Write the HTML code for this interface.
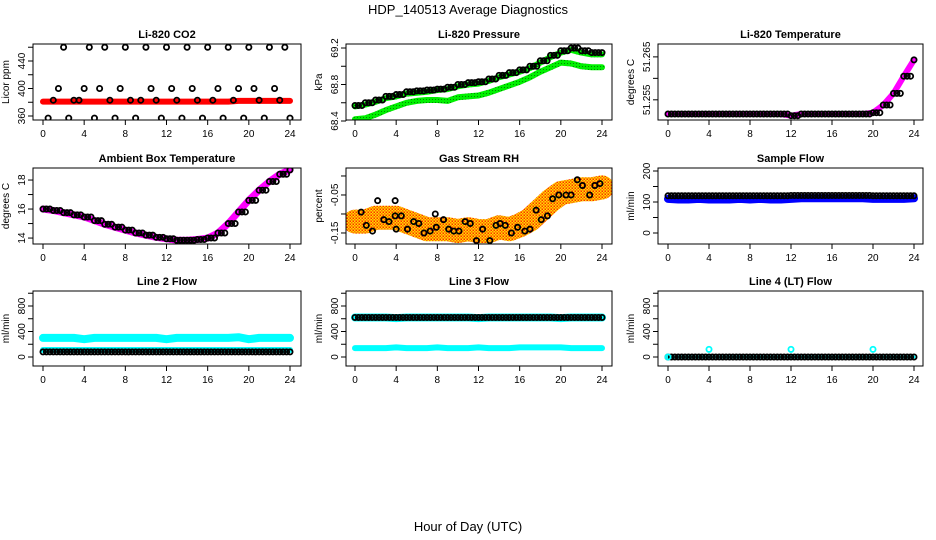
<!DOCTYPE html>
<html><head><meta charset="utf-8"><style>
body{margin:0;background:#fff}
svg{display:block;font-family:"Liberation Sans",sans-serif}
</style></head><body>
<svg id="c" width="936" height="540" xmlns="http://www.w3.org/2000/svg">
<defs>
<pattern id="rhpat" width="3" height="3" patternUnits="userSpaceOnUse">
<rect width="3" height="3" fill="#ffe000"/>
<rect width="1.5" height="1.5" fill="#ff6a00"/>
<rect x="1.5" y="1.5" width="1.5" height="1.5" fill="#ff2a00"/>
</pattern>
<pattern id="grpat" width="3" height="3" patternUnits="userSpaceOnUse">
<rect width="3" height="3" fill="#00f000"/>
<rect width="1" height="1" fill="#008800"/>
</pattern>
</defs>
<text x="468" y="14" text-anchor="middle" font-size="13">HDP_140513  Average Diagnostics</text>
<text x="468" y="531" text-anchor="middle" font-size="13">Hour of Day (UTC)</text>
</svg>
<script>
const hours = [0,1,2,3,4,5,6,7,8,9,10,11,12,13,14,15,16,17,18,19,20,21,22,23,24];
const xTicks = [0,4,8,12,16,20,24];
// CO2
const co2Red = [381,381,381,381,381,381,381,381,381,381,381,381,381,381,381,381,381,381,381,382,382,382,382,382,382];
const co2Hours = [0.5,1,1.5,2,2.5,3,3.5,4,4.5,5,5.5,6,6.5,7,7.5,8,8.5,9,9.5,10,10.5,11,11.5,12,12.5,13,13.5,14,14.5,15,15.5,16,16.5,17,17.5,18,18.5,19,19.5,20,20.5,21,21.5,22,22.5,23,23.5,24];
const co2Black = [357,383,400,460,357,383,383,400,460,357,400,460,383,357,400,460,383,357,383,460,400,383,357,460,400,383,357,460,400,383,357,460,383,400,357,460,383,400,357,460,400,383,357,460,400,383,460,357];
// Pressure
const presBlack = [68.57,68.6,68.63,68.67,68.69,68.72,68.73,68.74,68.75,68.77,68.8,68.82,68.83,68.86,68.9,68.93,68.96,69.0,69.06,69.12,69.17,69.2,69.17,69.15,69.15];
const presGreenHi = [68.56,68.58,68.61,68.65,68.67,68.7,68.71,68.72,68.74,68.75,68.78,68.8,68.81,68.84,68.88,68.91,68.94,68.98,69.04,69.1,69.15,69.18,69.15,69.13,69.13];
const presGreenLo = [68.42,68.43,68.47,68.52,68.56,68.6,68.62,68.63,68.63,68.62,68.66,68.67,68.68,68.71,68.75,68.79,68.83,68.88,68.94,68.99,69.04,69.03,69.0,68.99,68.99];
// Li-820 temperature
const tempVals = [51.2517,51.2517,51.2517,51.2517,51.2517,51.2517,51.2517,51.2517,51.2517,51.2517,51.2517,51.2517,51.2513,51.2517,51.2517,51.2517,51.2517,51.2517,51.2517,51.2517,51.252,51.2538,51.2565,51.2605,51.2643];
// Ambient box temperature
const ambVals = [16.0,15.9,15.75,15.6,15.45,15.2,14.95,14.75,14.55,14.35,14.2,14.05,13.95,13.85,13.85,13.9,14.0,14.35,15.0,15.8,16.6,17.3,17.9,18.4,18.7];
// Gas stream RH
const rhTrend = [-0.12,-0.12,-0.11,-0.11,-0.11,-0.12,-0.13,-0.14,-0.14,-0.14,-0.145,-0.14,-0.145,-0.145,-0.135,-0.14,-0.13,-0.115,-0.09,-0.065,-0.045,-0.04,-0.035,-0.035,-0.03];
const rhHours = [0.6,1.1,1.7,2.2,2.8,3.3,3.9,3.9,4.0,4.5,5.1,5.7,6.2,6.7,7.3,7.8,7.9,8.6,9.1,9.6,10.1,10.7,11.2,11.8,12.4,13.1,13.7,14.1,14.6,15.2,15.8,16.5,17.0,17.6,18.1,18.7,19.2,19.8,20.5,21.0,21.6,22.1,22.8,23.3,23.8];
const rhBlack = [-0.095,-0.13,-0.145,-0.065,-0.115,-0.12,-0.065,-0.105,-0.14,-0.105,-0.14,-0.12,-0.125,-0.15,-0.145,-0.1,-0.135,-0.115,-0.14,-0.145,-0.145,-0.12,-0.125,-0.17,-0.14,-0.17,-0.13,-0.125,-0.13,-0.15,-0.135,-0.145,-0.14,-0.09,-0.115,-0.105,-0.06,-0.05,-0.05,-0.05,-0.01,-0.025,-0.05,-0.025,-0.02];
// Flows
const sampleBlue = [110,108,108,110,108,108,108,110,108,110,108,108,110,112,112,112,112,112,112,112,110,110,110,110,112];
const sampleBlack = [120,120,120,120,120,120,120,120,120,120,120,120,121,121,121,121,121,121,121,121,120,120,120,120,120];
const l2CyanHi = [300,300,300,300,280,300,300,300,300,300,300,300,280,300,300,300,300,300,300,310,280,300,300,300,300];
const l2CyanLo = [110,110,110,110,110,110,110,110,110,110,110,110,110,110,110,110,110,110,110,110,110,110,110,110,110];
const l2Black = [80,80,80,80,80,80,80,80,80,80,80,80,80,80,80,80,80,80,80,80,80,80,80,80,80];
const l3CyanHi = [620,620,620,620,610,620,620,620,620,620,620,620,610,620,620,620,620,620,620,620,610,620,620,620,620];
const l3CyanLo = [140,140,140,140,150,140,140,140,150,140,140,140,150,140,140,140,150,150,150,150,150,140,140,140,140];
const l3Black = [620,620,620,620,620,620,620,620,620,620,620,620,620,620,620,620,620,620,620,620,620,620,620,620,620];
const l4Black = [0,0,0,0,0,0,0,0,0,0,0,0,0,0,0,0,0,0,0,0,0,0,0,0,0];
const l4CyanHours = [0,4,12,20];
const l4Cyan = [0,120,120,120];

const svg = document.getElementById('c');
const NS = 'http://www.w3.org/2000/svg';
function mk(tag, attrs, parent){const e=document.createElementNS(NS,tag);for(const k in attrs)e.setAttribute(k,attrs[k]);(parent||svg).appendChild(e);return e;}

const cols = [{l:33,r:301,x0:43,x24:290},{l:346,r:612,x0:355,x24:602},{l:658,r:923,x0:668,x24:914}];
const rows = [{t:44,b:120},{t:168,b:244},{t:291,b:366}];

function panel(ci, ri, title, ylab, ymin, ymax, ticks, labels, name){
  const c=cols[ci], r=rows[ri];
  const g = mk('g',{});
  
  
  const xs = h => c.x0 + (c.x24-c.x0)*h/24;
  const ys = v => r.b - (v-ymin)/(ymax-ymin)*(r.b-r.t);
  const t = mk('text',{x:(c.l+c.r)/2,y:r.t-6,'text-anchor':'middle','font-size':11,'font-weight':'bold'},g);
  t.textContent = title;
  
  
  const yl = mk('text',{transform:`translate(${c.l-24},${(r.t+r.b)/2}) rotate(-90)`,'text-anchor':'middle','font-size':10},g);
  yl.textContent = ylab;
  
  
  const plot = mk('g',{},g);
  
  
  const box = mk('rect',{x:c.l,y:r.t,width:c.r-c.l,height:r.b-r.t,fill:'none',stroke:'#000','stroke-width':1},g);
  
  
  mk('line',{x1:xs(0),x2:xs(24),y1:r.b,y2:r.b,stroke:'#000'},g);
  xTicks.forEach(h=>{
    mk('line',{x1:xs(h),x2:xs(h),y1:r.b,y2:r.b+5,stroke:'#000'},g);
    const tl = mk('text',{x:xs(h),y:r.b+17,'text-anchor':'middle','font-size':10},g);
    tl.textContent = h;
    
    
  });
  mk('line',{x1:c.l,x2:c.l,y1:ys(ticks[0]),y2:ys(ticks[ticks.length-1]),stroke:'#000'},g);
  ticks.forEach((v,i)=>{
    mk('line',{x1:c.l-5,x2:c.l,y1:ys(v),y2:ys(v),stroke:'#000'},g);
    if(labels[i]){
      const tl = mk('text',{transform:`translate(${c.l-8},${ys(v)}) rotate(-90)`,'text-anchor':'middle','font-size':10},g);
      tl.textContent = labels[i];
      
      
    }
  });
  const clip = 'clip-'+name;
  const cp = mk('clipPath',{id:clip},svg);
  mk('rect',{x:c.l,y:r.t,width:c.r-c.l,height:r.b-r.t},cp);
  plot.setAttribute('clip-path','url(#'+clip+')');
  return {xs,ys,g:plot};
}
function band(p, hs, vals, color, w, dash, name){
  const d = vals.map((v,i)=>(i?'L':'M')+p.xs(hs[i]).toFixed(1)+','+p.ys(v).toFixed(1)).join('');
  const e = mk('path',{d,fill:'none',stroke:color,'stroke-width':w,'stroke-linejoin':'round','stroke-linecap':'round'},p.g);
  if(dash) e.setAttribute('stroke-dasharray',dash);
  
  
}
function circles(p, hs, vals, color, name, sub){
  const n = sub||1;
  vals.forEach((v,i)=>{
    for(let k=0;k<n;k++){
      let h = hs[i], vv=v;
      if(n>1 && i<vals.length-1){ h = hs[i]+(hs[i+1]-hs[i])*k/n; }
      else if(k>0) continue;
      const e = mk('circle',{cx:p.xs(h),cy:p.ys(vv),r:2.6,fill:'none',stroke:color,'stroke-width':1.8},p.g);
      
      
    }
  });
}

// Panel 1 CO2
let p = panel(0,0,'Li-820 CO2','Licor ppm',354.2,464.7,[360,380,400,420,440,460],['360','','400','','440',''],'co2');
band(p,hours,co2Red,'#ff0000',6,null,'co2-red-band');
circles(p,co2Hours,co2Black,'#000','co2-point');
// Panel 2 Pressure
p = panel(1,0,'Li-820 Pressure','kPa',68.411,69.244,[68.4,68.6,68.8,69.0,69.2],['68.4','','68.8','','69.2'],'pressure');
band(p,hours,presGreenLo,'url(#grpat)',6,null,'pressure-green-low');
band(p,hours,presGreenHi,'url(#grpat)',6,null,'pressure-green-high');
circles(p,hours,presBlack,'#000','pressure-point',3);
// Panel 3 Temp
p = panel(2,0,'Li-820 Temperature','degrees C',51.2503,51.268,[51.255,51.26,51.265],['51.255','','51.265'],'li820-temp');
band(p,hours,tempVals,'#ff00ff',6,null,'li820-temp-band');
circles(p,hours,tempVals,'#000','li820-temp-point',3);
// Panel 4 Ambient
p = panel(0,1,'Ambient Box Temperature','degrees C',13.59,18.83,[14,15,16,17,18],['14','','16','','18'],'ambient');
band(p,hours,ambVals,'#ff00ff',7,null,'ambient-band');
circles(p,hours,ambVals,'#000','ambient-point',3);
// Panel 5 RH
p = panel(1,1,'Gas Stream RH','percent',-0.179,0.021,[-0.15,-0.1,-0.05,0],['-0.15','','-0.05',''],'rh');
band(p,hours,rhTrend,'url(#rhpat)',24,null,'rh-cloud');
circles(p,rhHours,rhBlack,'#000','rh-point');
// Panel 6 Sample flow
p = panel(2,1,'Sample Flow','ml/min',-35.5,209.7,[0,50,100,150,200],['0','','100','','200'],'sample-flow');
band(p,hours,sampleBlue,'#0000ff',8,null,'sample-flow-blue-band');
circles(p,hours,sampleBlack,'#000','sample-flow-point',3);
// Panel 7 Line 2
const fT=[0,200,400,600,800,1000], fL=['0','','400','','800',''];
p = panel(0,2,'Line 2 Flow','ml/min',-141,1035,fT,fL,'line2-flow');
band(p,hours,l2CyanHi,'#00ffff',8,null,'line2-cyan-high');
band(p,hours,l2CyanLo,'#00ffff',6,null,'line2-cyan-low');
circles(p,hours,l2Black,'#000','line2-point',3);
// Panel 8 Line 3
p = panel(1,2,'Line 3 Flow','ml/min',-141,1035,fT,fL,'line3-flow');
band(p,hours,l3CyanHi,'#00ffff',8,null,'line3-cyan-high');
band(p,hours,l3CyanLo,'#00ffff',6,null,'line3-cyan-low');
circles(p,hours,l3Black,'#000','line3-point',3);
// Panel 9 Line 4
p = panel(2,2,'Line 4 (LT) Flow','ml/min',-141,1035,fT,fL,'line4-flow');
band(p,hours,l4Black,'#00ffff',3,null,'line4-cyan-band');
circles(p,hours,l4Black,'#000','line4-point',3);
circles(p,l4CyanHours,l4Cyan,'#00ffff','line4-cyan-point');
</script>
</body></html>
